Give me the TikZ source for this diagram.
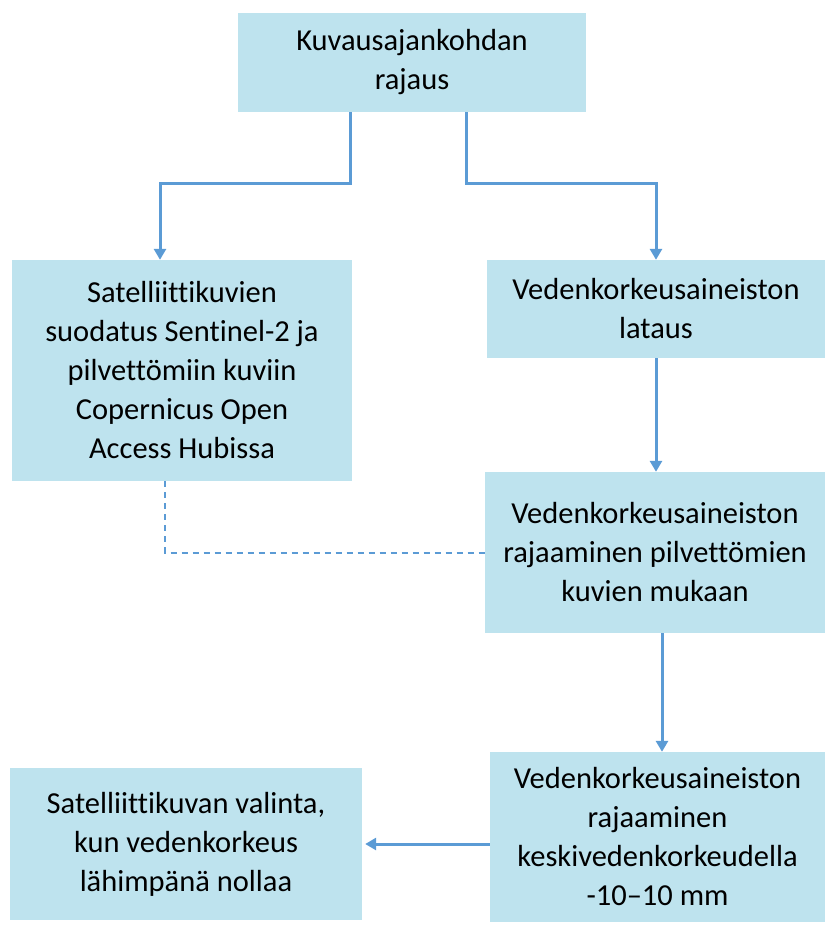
\documentclass[tikz,border=0pt]{standalone}
\usepackage{fontspec}
\setmainfont{Carlito}[Ligatures={NoCommon}]
\usetikzlibrary{arrows.meta}
\definecolor{boxfill}{HTML}{BEE3EE}
\definecolor{linkblue}{HTML}{5B9BD5}

\begin{document}
\begin{tikzpicture}[x=1pt,y=1pt,
    box/.style={fill=boxfill, align=center, inner sep=0pt,
      font=\fontsize{30.5}{39}\selectfont},
    link/.style={draw=linkblue, line width=3pt,
      -{Triangle[length=11pt,width=12pt]}},
    dashlink/.style={draw=linkblue, line width=2pt, dash pattern=on 6pt off 5pt}]
			\useasboundingbox (0,0) rectangle (825,-926);

			\node (rajaus) [box, minimum width=348pt, minimum height=99pt] at (412,-62.5) {Kuvausajankohdan\\rajaus};
			\node (suodatus) [box, minimum width=340pt, minimum height=221pt] at (182,-370.5) {Satelliittikuvien\\suodatus Sentinel-2 ja\\pilvett\"omiin kuviin\\Copernicus Open\\Access Hubissa};
			\node (lataus) [box, minimum width=338pt, minimum height=98pt] at (656,-309) {Vedenkorkeusaineiston\\lataus};
			\node (rajaaminen) [box, minimum width=340pt, minimum height=161pt] at (655,-552.5) {Vedenkorkeusaineiston\\rajaaminen pilvett\"omien\\kuvien mukaan};
			\node (keski) [box, minimum width=335pt, minimum height=170pt] at (657.5,-837) {Vedenkorkeusaineiston\\rajaaminen\\keskivedenkorkeudella\\-10--10 mm};
			\node (valinta) [box, minimum width=352pt, minimum height=152pt] at (186,-844) {Satelliittikuvan valinta,\\kun vedenkorkeus\\l\"ahimp\"an\"a nollaa};

			\draw[link] ([xshift=-62pt]rajaus.south) -- ++(0,-71) -| ([xshift=-22pt]suodatus.north);
			\draw[link] ([xshift=54pt]rajaus.south) -- ++(0,-71) -| (lataus.north);
			\draw[link] (lataus.south) -- (lataus.south |- rajaaminen.north);
			\draw[link] ([xshift=7pt]rajaaminen.south) -- ([xshift=7pt]rajaaminen.south |- keski.north);
			\draw[link] (keski.west |- valinta.east) -- ([xshift=3pt]valinta.east);
			\draw[dashlink] ([xshift=-17pt]suodatus.south) |- (rajaaminen.west);

		  \end{tikzpicture}
\end{document}
